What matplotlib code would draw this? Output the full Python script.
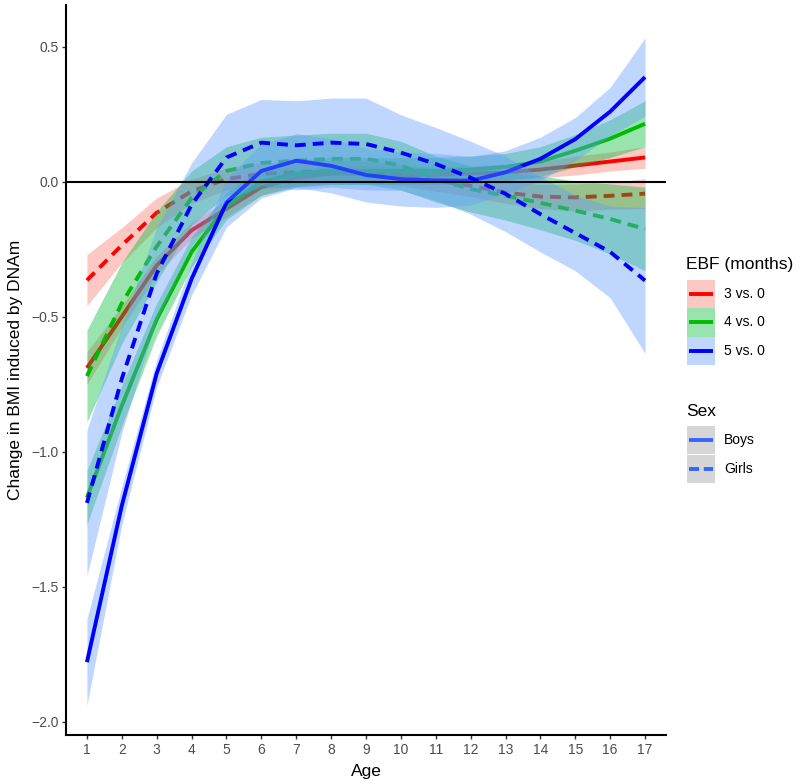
import matplotlib
matplotlib.use('Agg')
import matplotlib.pyplot as plt
from matplotlib.patches import Rectangle
from matplotlib.lines import Line2D

plt.rcParams['font.family'] = ['Liberation Sans', 'DejaVu Sans']

ages = list(range(1, 18))

# estimates (boys = solid, girls = dashed)
ebf3_boys = [-0.69, -0.50, -0.31, -0.18, -0.10, -0.02, 0.015, 0.03, 0.03, 0.025, 0.025, 0.03, 0.035, 0.045, 0.06, 0.075, 0.09]
ebf3_girls = [-0.365, -0.235, -0.115, -0.035, 0.01, 0.03, 0.035, 0.04, 0.035, 0.025, 0.005, -0.015, -0.04, -0.055, -0.058, -0.052, -0.044]
ebf4_boys = [-1.17, -0.83, -0.51, -0.26, -0.09, 0.0, 0.03, 0.04, 0.04, 0.04, 0.04, 0.045, 0.055, 0.075, 0.115, 0.16, 0.215]
ebf4_girls = [-0.72, -0.45, -0.24, -0.06, 0.04, 0.07, 0.078, 0.085, 0.085, 0.06, 0.01, -0.027, -0.052, -0.078, -0.107, -0.138, -0.175]
ebf5_boys = [-1.78, -1.20, -0.71, -0.36, -0.077, 0.04, 0.078, 0.059, 0.025, 0.01, 0.005, 0.004, 0.035, 0.085, 0.158, 0.26, 0.388]
ebf5_girls = [-1.19, -0.73, -0.34, -0.085, 0.09, 0.145, 0.135, 0.145, 0.14, 0.108, 0.066, 0.015, -0.045, -0.12, -0.19, -0.26, -0.366]

# half widths of the confidence bands
ebf3_boys_ci = [0.06, 0.04, 0.035, 0.03, 0.03, 0.03, 0.03, 0.03, 0.03, 0.03, 0.03, 0.03, 0.03, 0.03, 0.035, 0.035, 0.04]
ebf3_girls_ci = [0.095, 0.065, 0.055, 0.045, 0.04, 0.04, 0.04, 0.04, 0.04, 0.04, 0.04, 0.04, 0.04, 0.045, 0.05, 0.05, 0.055]
ebf4_boys_ci = [0.10, 0.075, 0.06, 0.055, 0.05, 0.05, 0.05, 0.05, 0.05, 0.05, 0.05, 0.05, 0.05, 0.055, 0.06, 0.07, 0.085]
ebf4_girls_ci = [0.17, 0.15, 0.13, 0.10, 0.09, 0.095, 0.095, 0.095, 0.095, 0.09, 0.085, 0.085, 0.09, 0.10, 0.11, 0.13, 0.155]
ebf5_boys_ci = [0.16, 0.07, 0.05, 0.06, 0.09, 0.10, 0.10, 0.10, 0.10, 0.10, 0.10, 0.09, 0.08, 0.08, 0.08, 0.09, 0.145]
ebf5_girls_ci = [0.27, 0.20, 0.17, 0.155, 0.16, 0.16, 0.165, 0.165, 0.17, 0.14, 0.135, 0.135, 0.14, 0.14, 0.14, 0.17, 0.27]

ebf_labels = ['3 vs. 0', '4 vs. 0', '5 vs. 0']
sex_labels = ['Boys', 'Girls']
line_colors = ['#FF0000', '#00BB00', '#0000FF']
fill_colors = ['#F8766D', '#00BA38', '#619CFF']

series = [
    (ebf3_boys, ebf3_boys_ci, 0, 'solid'),
    (ebf3_girls, ebf3_girls_ci, 0, 'dashed'),
    (ebf4_boys, ebf4_boys_ci, 1, 'solid'),
    (ebf4_girls, ebf4_girls_ci, 1, 'dashed'),
    (ebf5_boys, ebf5_boys_ci, 2, 'solid'),
    (ebf5_girls, ebf5_girls_ci, 2, 'dashed'),
]

DASH = (2.8, 1.8)
LW = 2.8

fig = plt.figure(figsize=(8, 7.84), dpi=100)
ax = fig.add_axes([66 / 800, 49 / 784, 600 / 800, 730 / 784])

# each group draws its band and then its line, like geom_smooth per group
z = 1
for est, ci, k, style in series:
    lo = [e - c for e, c in zip(est, ci)]
    hi = [e + c for e, c in zip(est, ci)]
    ax.fill_between(ages, lo, hi, color=fill_colors[k], alpha=0.4, linewidth=0, zorder=z)
    ln, = ax.plot(ages, est, color=line_colors[k], lw=LW, solid_capstyle='butt', zorder=z + 1)
    if style == 'dashed':
        ln.set_dashes(DASH)
        ln.set_dash_capstyle('butt')
    z += 2

ax.axhline(0, color='black', lw=1.5, zorder=50)

ax.set_xlim(0.4, 17.6)
ax.set_ylim(-2.05, 0.655)
ax.set_xticks(ages)
ax.set_yticks([-2.0, -1.5, -1.0, -0.5, 0.0, 0.5])
ax.set_yticklabels(['\u22122.0', '\u22121.5', '\u22121.0', '\u22120.5', '0.0', '0.5'])
ax.tick_params(axis='both', colors='#333333', labelcolor='#4D4D4D', labelsize=10,
               length=3, width=1, pad=2.5)
for side in ['top', 'right']:
    ax.spines[side].set_visible(False)
for side in ['left', 'bottom']:
    ax.spines[side].set_linewidth(1.5)
ax.set_xlabel('Age', fontsize=12.5, labelpad=5)
ax.set_ylabel('Change in BMI induced by DNAm', fontsize=12.5, labelpad=6)


def px(x, y):
    return x / 800, 1 - y / 784


def key_box(y_top, fill, alpha, color, dashes=None):
    x0, y0 = px(687, y_top + 28.3)
    fig.add_artist(Rectangle((x0, y0), 28 / 800, 28.3 / 784, transform=fig.transFigure,
                             facecolor=fill, alpha=alpha, edgecolor='none'))
    ym = y_top + 14.15
    xa, ya = px(689, ym)
    xb, yb = px(713, ym)
    ln = Line2D([xa, xb], [ya, yb], transform=fig.transFigure, color=color, lw=LW,
                solid_capstyle='butt')
    if dashes:
        ln.set_dashes(dashes)
        ln.set_dash_capstyle('butt')
    fig.add_artist(ln)


# legend: EBF (months)
tx, ty = px(686, 265)
fig.text(tx, ty, 'EBF (months)', fontsize=12.5, ha='left', va='center', color='black')
for k, lab in enumerate(ebf_labels):
    top = 280 + 28.3 * k
    key_box(top, fill_colors[k], 0.4, line_colors[k])
    lx, ly = px(724, top + 14.15)
    fig.text(lx, ly, lab, fontsize=10, ha='left', va='center', color='black')

# legend: Sex
tx, ty = px(686, 411)
fig.text(tx, ty, 'Sex', fontsize=12.5, ha='left', va='center', color='black')
for k, lab in enumerate(sex_labels):
    top = 426 + 28.5 * k
    key_box(top, '#999999', 0.4, '#3366FF', dashes=(2.6, 1.2) if k == 1 else None)
    lx, ly = px(724, top + 14.25)
    fig.text(lx, ly, lab, fontsize=10, ha='left', va='center', color='black')

fig.savefig('out.png', dpi=100)
